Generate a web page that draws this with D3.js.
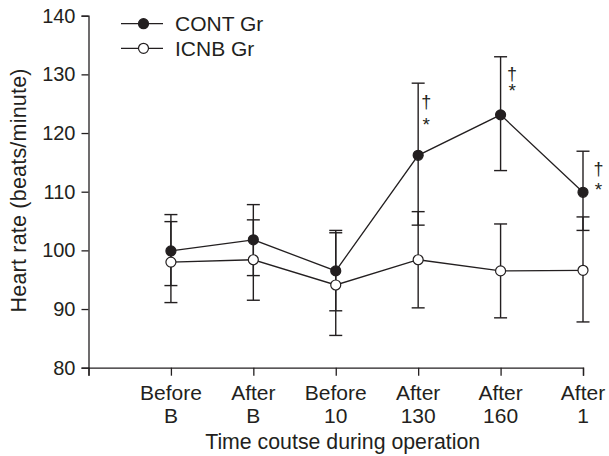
<!DOCTYPE html>
<html>
<head>
<meta charset="utf-8">
<script src="https://cdn.jsdelivr.net/npm/d3@7"></script>
<style>
  body { margin: 0; background: #fff; }
  text { font-family: "Liberation Sans", Arial, sans-serif; fill: #231f20; }
</style>
</head>
<body>
<div id="chart"></div>
<script>
// categorias del eje x (dos lineas cada una)
const categories = [
  ["Before", "B"],
  ["After", "B"],
  ["Before", "10"],
  ["After", "130"],
  ["After", "160"],
  ["After", "1"],
];

// grupo control
const contMean = [99.9, 101.8, 96.5, 116.2, 123.1, 109.9];
const contUpper = [106.1, 107.8, 103.4, 128.5, 133.0, 116.9];
const contLower = [94.0, 95.7, 89.7, 104.3, 113.6, 103.4];

// grupo ICNB
const icnbMean = [98.0, 98.4, 94.1, 98.4, 96.5, 96.6];
const icnbUpper = [104.9, 105.2, 103.0, 106.6, 104.5, 105.7];
const icnbLower = [91.1, 91.5, 85.5, 90.2, 88.5, 87.8];

// marcas de significancia (indice, valor de la linea base del † y del *)
const sigIndex = [3, 4, 5];
const daggerAt = [124.2, 129.0, 112.8];
const starAt = [120.4, 126.1, 109.2];

const yTicks = [80, 90, 100, 110, 120, 130, 140];
const seriesNames = ["CONT Gr", "ICNB Gr"];

function generateChart() {
  const width = 609;
  const height = 456;
  const ink = "#231f20";

  const svg = d3
    .select("#chart")
    .append("svg")
    .attr("width", width)
    .attr("height", height);

  // posicion 0 es el origen, las categorias van de 1 a 6
  const x = d3.scaleLinear().domain([0, categories.length]).range([88.5, 583]);
  const y = d3.scaleLinear().domain([80, 140]).range([367.7, 15.7]);

  // eje y
  const yAxis = svg
    .append("g")
    .attr("transform", `translate(${x(0)},0)`)
    .call(d3.axisLeft(y).tickValues(yTicks).tickSize(7).tickPadding(6));
  yAxis.select(".domain").attr("stroke", ink).attr("stroke-width", 1.3);
  yAxis.selectAll(".tick line").attr("stroke", ink).attr("stroke-width", 1.3);
  yAxis
    .selectAll(".tick text")
    .attr("font-size", 20)
    .attr("font-family", null)
    .attr("fill", ink);

  // eje x
  const xAxis = svg
    .append("g")
    .attr("transform", `translate(0,${y(80)})`)
    .call(
      d3
        .axisBottom(x)
        .tickValues(d3.range(0, categories.length + 1))
        .tickSize(8)
        .tickFormat("")
    );
  xAxis.select(".domain").attr("stroke", ink).attr("stroke-width", 1.3);
  xAxis.selectAll(".tick line").attr("stroke", ink).attr("stroke-width", 1.3);

  const labels = svg
    .append("g")
    .selectAll("text")
    .data(categories)
    .enter()
    .append("text")
    .attr("text-anchor", "middle")
    .attr("font-size", 21)
    .attr("x", (d, i) => x(i + 1))
    .attr("y", 399.5);
  labels
    .append("tspan")
    .attr("x", (d, i) => x(i + 1))
    .text((d) => d[0]);
  labels
    .append("tspan")
    .attr("x", (d, i) => x(i + 1))
    .attr("dy", 23)
    .text((d) => d[1]);

  // titulos
  svg
    .append("text")
    .attr("text-anchor", "middle")
    .attr("font-size", 21.3)
    .attr("x", 342.7)
    .attr("y", 449)
    .text("Time coutse during operation");

  svg
    .append("text")
    .attr("text-anchor", "middle")
    .attr("font-size", 21.5)
    .attr("textLength", 244)
    .attr("lengthAdjust", "spacing")
    .attr("transform", `translate(26,190.5) rotate(-90)`)
    .text("Heart rate (beats/minute)");

  const series = [
    { name: seriesNames[0], mean: contMean, up: contUpper, lo: contLower, fill: ink },
    { name: seriesNames[1], mean: icnbMean, up: icnbUpper, lo: icnbLower, fill: "#fff" },
  ];

  // barras de error
  series.forEach((s) => {
    const g = svg.append("g").attr("stroke", ink).attr("stroke-width", 1.4);
    s.mean.forEach((m, i) => {
      const cx = x(i + 1);
      g.append("line").attr("x1", cx).attr("x2", cx).attr("y1", y(s.up[i])).attr("y2", y(s.lo[i]));
      g.append("line").attr("x1", cx - 6.5).attr("x2", cx + 6.5).attr("y1", y(s.up[i])).attr("y2", y(s.up[i]));
      g.append("line").attr("x1", cx - 6.5).attr("x2", cx + 6.5).attr("y1", y(s.lo[i])).attr("y2", y(s.lo[i]));
    });
  });

  // lineas
  const line = d3
    .line()
    .x((d, i) => x(i + 1))
    .y((d) => y(d));
  series.forEach((s) => {
    svg
      .append("path")
      .datum(s.mean)
      .attr("fill", "none")
      .attr("stroke", ink)
      .attr("stroke-width", 1.3)
      .attr("d", line);
  });

  // puntos
  series.forEach((s) => {
    svg
      .append("g")
      .selectAll("circle")
      .data(s.mean)
      .enter()
      .append("circle")
      .attr("cx", (d, i) => x(i + 1))
      .attr("cy", (d) => y(d))
      .attr("r", 5)
      .attr("fill", s.fill)
      .attr("stroke", ink)
      .attr("stroke-width", 1.2);
  });

  // † y * a la derecha de cada barra
  const sigDx = [8, 11.5, 15.5];
  const sig = svg.append("g").attr("text-anchor", "middle").attr("fill", ink);
  sigIndex.forEach((idx, k) => {
    sig
      .append("text")
      .attr("x", x(idx + 1) + sigDx[k])
      .attr("y", y(daggerAt[k]))
      .attr("font-size", 18)
      .attr("font-family", "DejaVu Sans, sans-serif")
      .style("fill", ink)
      .text("\u2020");
    sig
      .append("text")
      .attr("x", x(idx + 1) + sigDx[k])
      .attr("y", y(starAt[k]))
      .attr("font-size", 19)
      .text("*");
  });

  // leyenda
  const legend = svg
    .append("g")
    .selectAll("g")
    .data(series)
    .enter()
    .append("g")
    .attr("transform", (d, i) => `translate(121,${23.7 + i * 24.6})`);
  legend
    .append("line")
    .attr("x1", 0)
    .attr("x2", 42)
    .attr("stroke", ink)
    .attr("stroke-width", 1.3);
  legend
    .append("circle")
    .attr("cx", 22.5)
    .attr("r", 5)
    .attr("fill", (d) => d.fill)
    .attr("stroke", ink)
    .attr("stroke-width", 1.2);
  legend
    .append("text")
    .attr("x", 54)
    .attr("y", 7.5)
    .attr("font-size", 21)
    .text((d) => d.name);
}

function main() {
  generateChart();
}

main();
</script>
</body>
</html>
